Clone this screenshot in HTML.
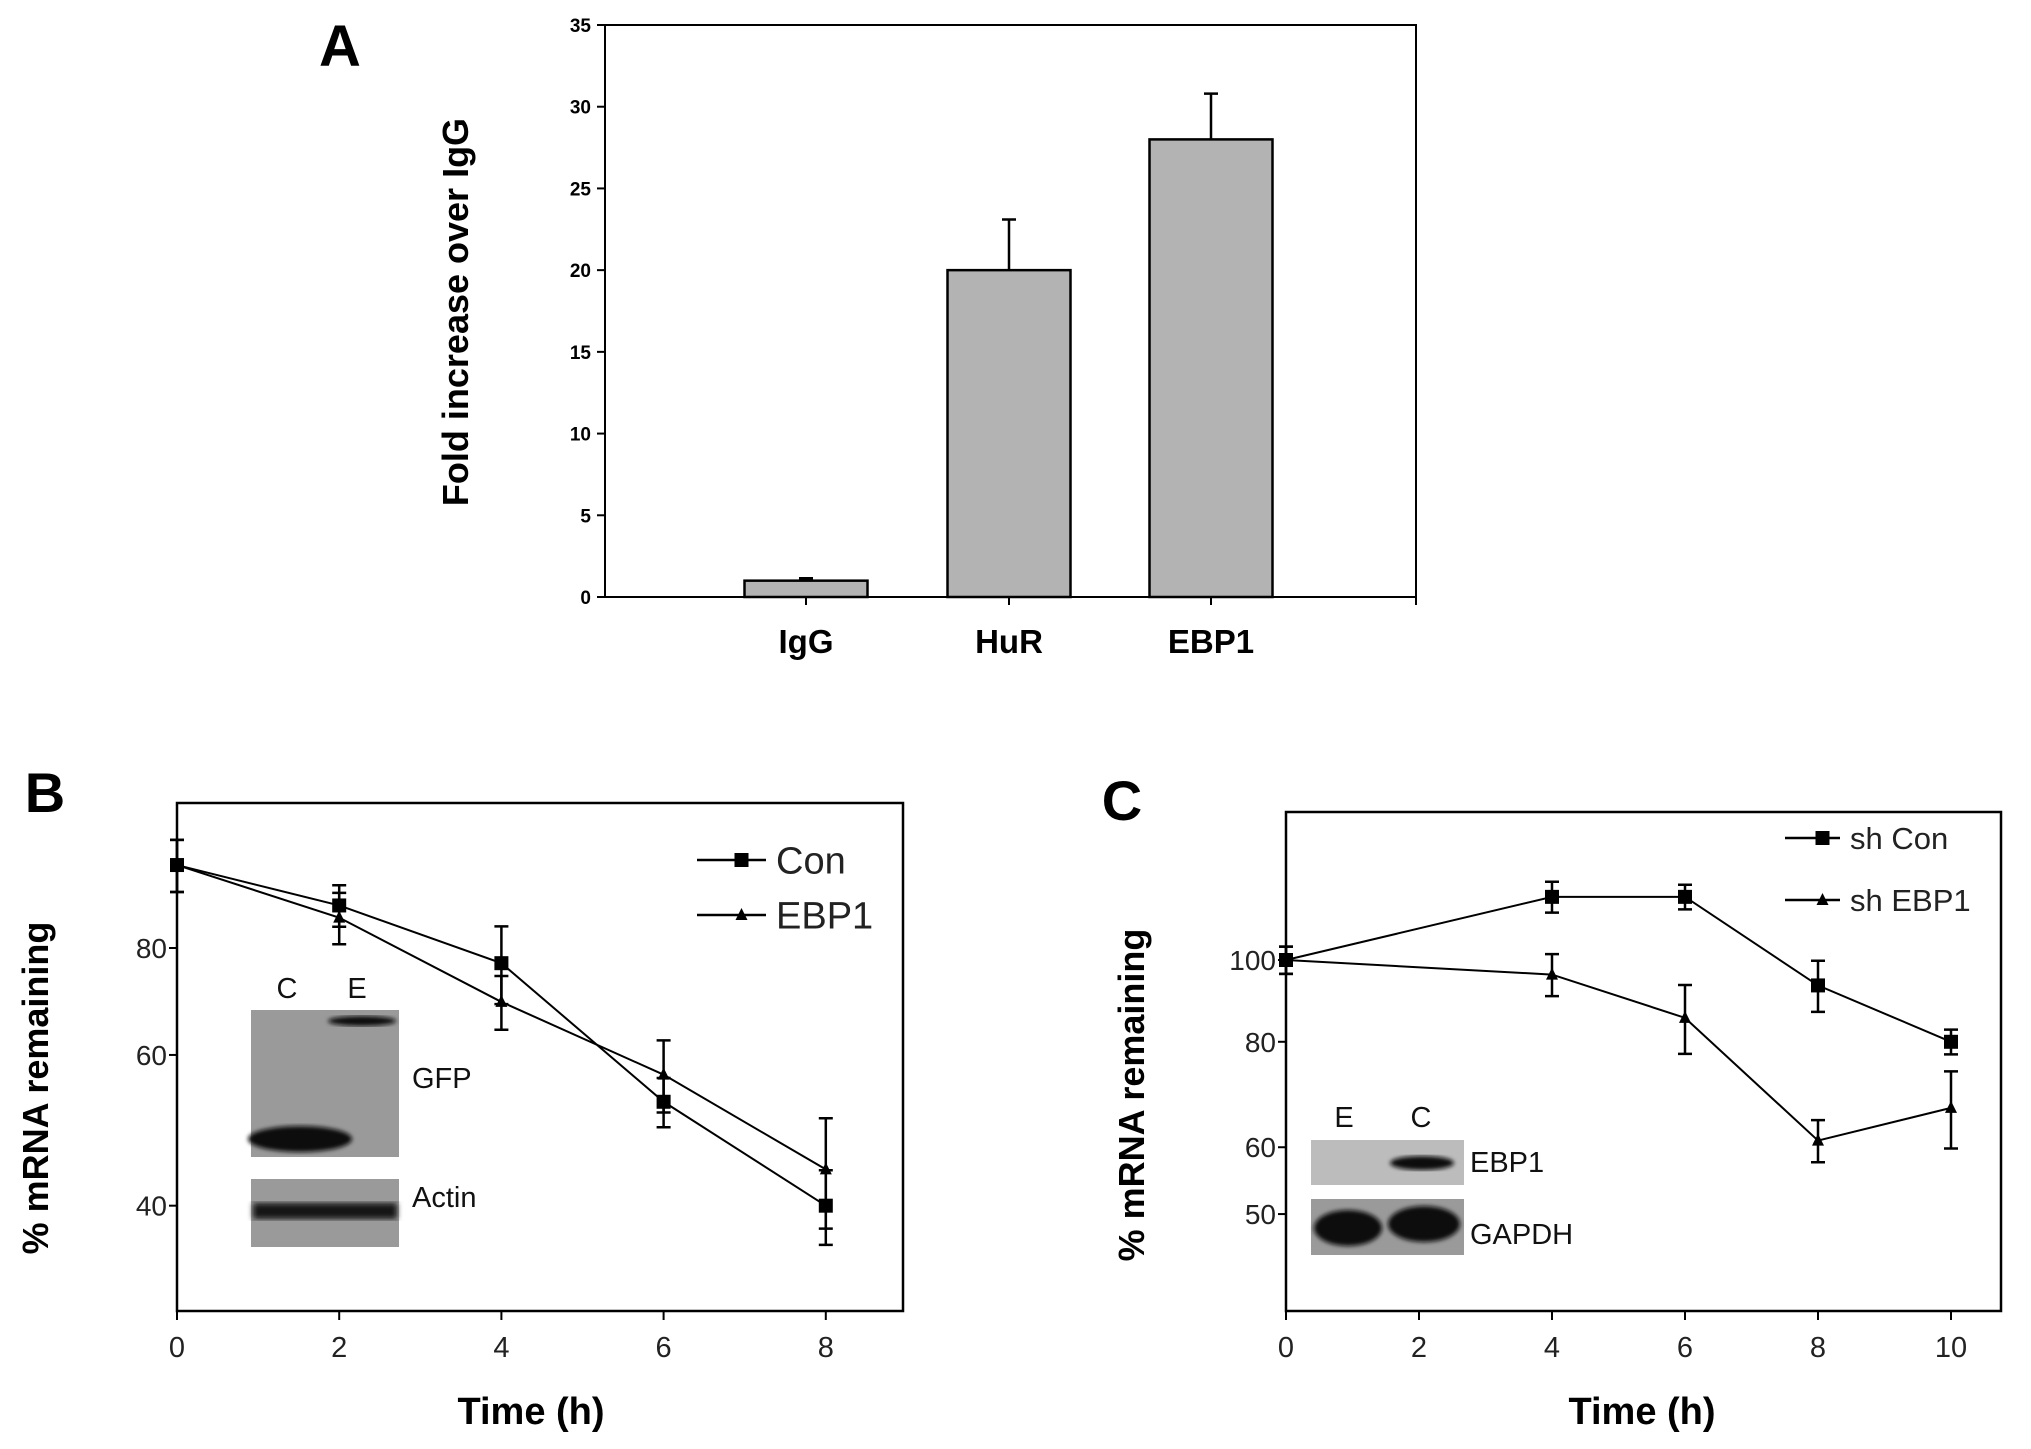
<!DOCTYPE html>
<html><head><meta charset="utf-8"><style>
body{margin:0;background:#fff;}
svg{display:block;font-family:"Liberation Sans",sans-serif;}
</style></head><body>
<svg id="fig" width="2031" height="1449" viewBox="0 0 2031 1449">
<defs>
<filter id="blur3"><feGaussianBlur stdDeviation="3"/></filter>
<filter id="blur2"><feGaussianBlur stdDeviation="2"/></filter>
</defs>
<g id="panelA"></g>
<g id="panelB"></g>
<g id="panelC"></g>
</svg>
<script>
// Panel A data
const aCategories = ["IgG","HuR","EBP1"];
const aValues = [1, 20, 28];
const aErrors = [0.15, 3.1, 2.8];
const aTicks = [0,5,10,15,20,25,30,35];
// Panel B data
const bTimes = [0,2,4,6,8];
const bCon = [100, 89.7, 76.8, 52.9, 40];
const bConErr = [7, 5, 8, 3.5, 4];
const bEbp = [100, 86.8, 69.2, 56.9, 44.1];
const bEbpErr = [7, 6, 5, 5.5, 6.5];
const bYTicks = [40, 60, 80];
const bXTicks = [0,2,4,6,8];
// Panel C data
const cTimes = [0,4,6,8,10];
const cCon = [100, 118.8, 118.8, 93.3, 80];
const cConErr = [3.7, 5, 4, 6.5, 2.7];
const cEbp = [100, 96.1, 85.4, 61.1, 66.8];
const cEbpErr = [3.7, 5.5, 8, 3.5, 7];
const cYTicks = [50, 60, 80, 100];
const cXTicks = [0,2,4,6,8,10];

const NS = "http://www.w3.org/2000/svg";
function mk(parent, tag, attrs, text){
  const e = document.createElementNS(NS, tag);
  for (const k in attrs) e.setAttribute(k, attrs[k]);
  if (text !== undefined) e.textContent = text;
  parent.appendChild(e);
  return e;
}

// ---------- Panel A ----------
(function(){
  const g = document.getElementById('panelA');
  const L=605, R=1416, T=25, B=597;
  const y = v => B - (v/35)*(B-T);
  const xc = [806, 1009, 1211];
  const bw = 123;
  let t = mk(g,'text',{x:340,y:66,'font-size':58,'font-weight':'bold','text-anchor':'middle'},'A');
   
  let ax = mk(g,'path',{d:`M${L},${T} H${R} V${B+8} M${L},${T} V${B} H${R}`,stroke:'#000','stroke-width':2,fill:'none'});
   
  aTicks.forEach(v=>{
    const tk = mk(g,'line',{x1:L-8,x2:L,y1:y(v),y2:y(v),stroke:'#000','stroke-width':2});
     
    const lb = mk(g,'text',{x:L-14,y:y(v)+7,'font-size':19,'text-anchor':'end','font-weight':'bold'},String(v));
     
  });
  aCategories.forEach((c,i)=>{
    const bar = mk(g,'rect',{x:xc[i]-bw/2,y:y(aValues[i]),width:bw,height:B-y(aValues[i]),fill:'#b3b3b3',stroke:'#000','stroke-width':2.5});
     
    const e = mk(g,'path',{d:`M${xc[i]},${y(aValues[i])} V${y(aValues[i]+aErrors[i])} M${xc[i]-7},${y(aValues[i]+aErrors[i])} H${xc[i]+7}`,stroke:'#000','stroke-width':2.5,fill:'none'});
     
    const tk = mk(g,'line',{x1:xc[i],x2:xc[i],y1:B,y2:B+8,stroke:'#000','stroke-width':2});
     
    const lb = mk(g,'text',{x:xc[i],y:653,'font-size':33,'font-weight':'bold','text-anchor':'middle'},c);
     
  });
  const yt = mk(g,'text',{x:0,y:0,'font-size':36,'font-weight':'bold','text-anchor':'middle',transform:'translate(468,312) rotate(-90)'},'Fold increase over IgG');
   
})();

// ---------- Line panel helper ----------
function linePanel(g, o){
  const y = v => o.y0 - o.decade*(Math.log10(v)-Math.log10(o.v0));
  const x = t => o.x0 + t*o.xs;
  const fr = mk(g,'rect',{x:o.L,y:o.T,width:o.R-o.L,height:o.B-o.T,fill:'none',stroke:'#000','stroke-width':2.5});
   
  o.yTicks.forEach(v=>{
    const tk = mk(g,'line',{x1:o.L-8,x2:o.L,y1:y(v),y2:y(v),stroke:'#000','stroke-width':2});
     
    const lb = mk(g,'text',{x:o.L-10,y:y(v)+10,'font-size':28,'text-anchor':'end',fill:'#222'},String(v));
     
  });
  o.xTicks.forEach(t=>{
    const tk = mk(g,'line',{x1:x(t),x2:x(t),y1:o.B,y2:o.B+9,stroke:'#000','stroke-width':2});
     
    const lb = mk(g,'text',{x:x(t),y:o.B+46,'font-size':29,'text-anchor':'middle',fill:'#222'},String(t));
     
  });
  o.series.forEach(s=>{
    const pts = s.vals.map((v,i)=>x(o.times[i])+','+y(v)).join(' ');
    const pl = mk(g,'polyline',{points:pts,fill:'none',stroke:'#000','stroke-width':2});
     
    s.vals.forEach((v,i)=>{
      const xx=x(o.times[i]), yt=y(v+s.err[i]), yb=y(v-s.err[i]);
      const e = mk(g,'path',{d:`M${xx},${yt} V${yb} M${xx-7},${yt} H${xx+7} M${xx-7},${yb} H${xx+7}`,stroke:'#000','stroke-width':2.5,fill:'none'});
       
      let m;
      if (s.marker==='square') m = mk(g,'rect',{x:xx-7,y:y(v)-7,width:14,height:14,fill:'#000'});
      else m = mk(g,'path',{d:`M${xx},${y(v)-7} L${xx+6},${y(v)+5} L${xx-6},${y(v)+5} Z`,fill:'#000'});
       
    });
    const ly = s.legY;
    const ll = mk(g,'line',{x1:o.legX1,x2:o.legX2,y1:ly,y2:ly,stroke:'#000','stroke-width':2.5});
     
    const mx=(o.legX1+o.legX2)/2+10;
    let lm;
    if (s.marker==='square') lm = mk(g,'rect',{x:mx-7,y:ly-7,width:14,height:14,fill:'#000'});
    else lm = mk(g,'path',{d:`M${mx},${ly-7} L${mx+6},${ly+5} L${mx-6},${ly+5} Z`,fill:'#000'});
     
    const lt = mk(g,'text',{x:o.legX2+10,y:ly+o.legFs*0.36,'font-size':o.legFs,fill:'#222'},s.label);
     
  });
  const xt = mk(g,'text',{x:o.xtX,y:1424,'font-size':38,'font-weight':'bold','text-anchor':'middle'},'Time (h)');
   
  const ytt = mk(g,'text',{x:0,y:0,'font-size':36,'font-weight':'bold','text-anchor':'middle',transform:`translate(${o.ytX},${o.ytY}) rotate(-90)`},'% mRNA remaining');
   
  const pl = mk(g,'text',{x:o.lblX,y:o.lblY,'font-size':56,'font-weight':'bold','text-anchor':'middle'},o.letter);
   
}

// ---------- Panel B ----------
(function(){
  const g = document.getElementById('panelB');
  // inset blots
  const b1 = mk(g,'rect',{x:251,y:1010,width:148,height:147,fill:'#9a9a9a'});
   
  mk(g,'ellipse',{cx:300,cy:1139,rx:52,ry:13,fill:'#111',filter:'url(#blur2)'});
  mk(g,'ellipse',{cx:362,cy:1021,rx:34,ry:5,fill:'#111',filter:'url(#blur2)'});
  const b2 = mk(g,'rect',{x:251,y:1179,width:148,height:68,fill:'#9a9a9a'});
   
  mk(g,'rect',{x:253,y:1203,width:144,height:16,fill:'#151515',filter:'url(#blur3)'});
  [['C',287,998],['E',357,998],['GFP',412,1088],['Actin',412,1207]].forEach(a=>{
    const t = mk(g,'text',{x:a[1],y:a[2],'font-size':29,fill:'#111','text-anchor':a[0].length===1?'middle':'start'},a[0]);
     
  });
  linePanel(g,{L:177,R:903,T:803,B:1311,x0:177,xs:81.1,y0:948,v0:80,decade:856,
    times:bTimes,yTicks:bYTicks,xTicks:bXTicks,
    series:[{name:'con',label:'Con',vals:bCon,err:bConErr,marker:'square',legY:860},
            {name:'ebp1',label:'EBP1',vals:bEbp,err:bEbpErr,marker:'triangle',legY:915}],
    legX1:697,legX2:766,legFs:38,xtX:531,ytX:48,ytY:1088,lblX:45,lblY:812,letter:'B'});
})();

// ---------- Panel C ----------
(function(){
  const g = document.getElementById('panelC');
  const b1 = mk(g,'rect',{x:1311,y:1140,width:153,height:45,fill:'#bcbcbc'});
   
  mk(g,'ellipse',{cx:1422,cy:1163,rx:32,ry:7,fill:'#111',filter:'url(#blur2)'});
  const b2 = mk(g,'rect',{x:1311,y:1199,width:153,height:56,fill:'#9a9a9a'});
   
  mk(g,'ellipse',{cx:1348,cy:1228,rx:34,ry:18,fill:'#111',filter:'url(#blur2)'});
  mk(g,'ellipse',{cx:1424,cy:1224,rx:36,ry:18,fill:'#111',filter:'url(#blur2)'});
  [['E',1344,1127],['C',1421,1127],['EBP1',1470,1172],['GAPDH',1470,1244]].forEach(a=>{
    const t = mk(g,'text',{x:a[1],y:a[2],'font-size':29,fill:'#111','text-anchor':a[0].length===1?'middle':'start'},a[0]);
     
  });
  linePanel(g,{L:1286,R:2001,T:812,B:1311,x0:1286,xs:66.5,y0:960,v0:100,decade:844,
    times:cTimes,yTicks:cYTicks,xTicks:cXTicks,
    series:[{name:'sh-con',label:'sh Con',vals:cCon,err:cConErr,marker:'square',legY:838},
            {name:'sh-ebp1',label:'sh EBP1',vals:cEbp,err:cEbpErr,marker:'triangle',legY:900}],
    legX1:1785,legX2:1840,legFs:31,xtX:1642,ytX:1144,ytY:1095,lblX:1122,lblY:820,letter:'C'});
})();
</script>
</body></html>
